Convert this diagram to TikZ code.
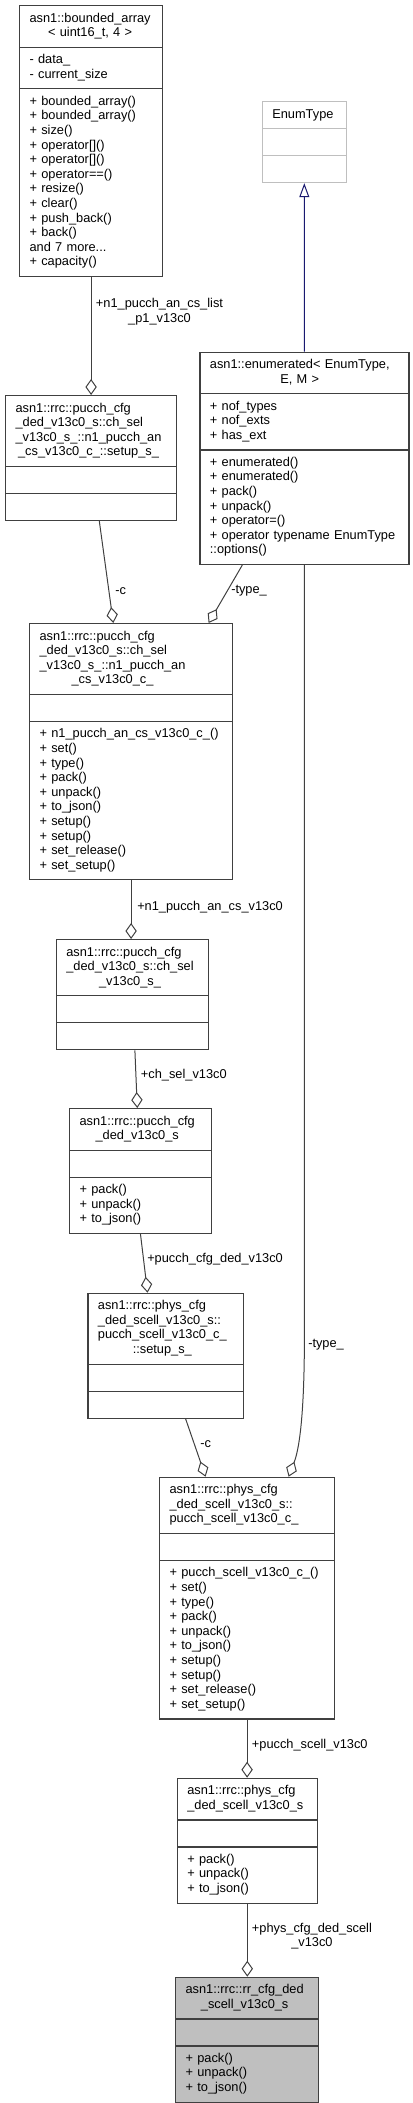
\documentclass[tikz,border=0pt]{standalone}
\usepackage{fontspec}
\setmainfont{Liberation Sans}
\usetikzlibrary{shapes.multipart,arrows.meta,calc}
\definecolor{grey25}{RGB}{64,64,64}
\definecolor{grey75}{RGB}{191,191,191}
\definecolor{midblue}{RGB}{25,25,112}
\setlength{\parindent}{0pt}
\newcommand{\cname}[2]{\centering\begin{tabular}{@{}l@{}}#1\\\multicolumn{1}{@{}c@{}}{#2}\end{tabular}}
\newcommand{\mlist}[1]{\strut#1\strut}
\begin{document}
\begin{tikzpicture}[x=0.75pt,y=-0.75pt,
  cls/.style={draw=grey25,line width=0.9pt,fill=white,rectangle split,rectangle split parts=3,
    anchor=north west,inner xsep=7.5pt,inner ysep=4.2pt,font=\fontsize{9.6}{10.95}\selectfont,align=left},
  agg/.style={grey25,line width=0.75pt,-{Diamond[open,length=12pt,width=8.5pt]}},
  lbl/.style={inner sep=0pt,font=\fontsize{9.6}{10.95}\selectfont,anchor=west,align=center}]
\useasboundingbox (0,0) rectangle (413,2103);
\node[cls,text width=92.25pt] (BA) at (19,5) {\cname{asn1::bounded\_array}{< uint16\_t, 4 >}
  \nodepart{two}\mlist{- data\_\\- current\_size}
  \nodepart{three}\mlist{+ bounded\_array()\\+ bounded\_array()\\+ size()\\+ operator[]()\\+ operator[]()\\+ operator==()\\+ resize()\\+ clear()\\+ push\_back()\\+ back()\\and 7 more...\\+ capacity()}};
\node[cls,draw=grey75,text width=48pt] (ET) at (261.7,101) {\centering\strut EnumType\strut
  \nodepart{two}\strut
  \nodepart{three}\strut};
\node[cls,text width=141.75pt] (EN) at (199.3,351.5) {\cname{asn1::enumerated< EnumType,}{E, M >}
  \nodepart{two}\mlist{+ nof\_types\\+ nof\_exts\\+ has\_ext}
  \nodepart{three}\mlist{+ enumerated()\\+ enumerated()\\+ pack()\\+ unpack()\\+ operator=()\\+ operator typename EnumType\\::options()}};
\node[cls,text width=113.25pt] (S1) at (5,395) {\cname{asn1::rrc::pucch\_cfg\\\_ded\_v13c0\_s::ch\_sel\\\_v13c0\_s\_::n1\_pucch\_an}{\_cs\_v13c0\_c\_::setup\_s\_}
  \nodepart{two}\strut
  \nodepart{three}\strut};
\node[cls,text width=137.25pt] (C1) at (29,623) {\cname{asn1::rrc::pucch\_cfg\\\_ded\_v13c0\_s::ch\_sel\\\_v13c0\_s\_::n1\_pucch\_an}{\_cs\_v13c0\_c\_}
  \nodepart{two}\strut
  \nodepart{three}\mlist{+ n1\_pucch\_an\_cs\_v13c0\_c\_()\\+ set()\\+ type()\\+ pack()\\+ unpack()\\+ to\_json()\\+ setup()\\+ setup()\\+ set\_release()\\+ set\_setup()}};
\node[cls,text width=99pt] (CS) at (55.7,939) {\cname{asn1::rrc::pucch\_cfg\\\_ded\_v13c0\_s::ch\_sel}{\_v13c0\_s\_}
  \nodepart{two}\strut
  \nodepart{three}\strut};
\node[cls,text width=91.3pt] (PD) at (69,1108) {\cname{asn1::rrc::pucch\_cfg}{\_ded\_v13c0\_s}
  \nodepart{two}\strut
  \nodepart{three}\mlist{+ pack()\\+ unpack()\\+ to\_json()}};
\node[cls,text width=101.5pt] (S2) at (87.3,1292.7) {\cname{asn1::rrc::phys\_cfg\\\_ded\_scell\_v13c0\_s::\\pucch\_scell\_v13c0\_c\_}{::setup\_s\_}
  \nodepart{two}\strut
  \nodepart{three}\strut};
\node[cls,text width=116.25pt] (C2) at (159,1476.7) {\cname{asn1::rrc::phys\_cfg\\\_ded\_scell\_v13c0\_s::}{pucch\_scell\_v13c0\_c\_}
  \nodepart{two}\strut
  \nodepart{three}\mlist{+ pucch\_scell\_v13c0\_c\_()\\+ set()\\+ type()\\+ pack()\\+ unpack()\\+ to\_json()\\+ setup()\\+ setup()\\+ set\_release()\\+ set\_setup()}};
\node[cls,text width=90pt] (PS) at (176.7,1777.7) {\cname{asn1::rrc::phys\_cfg}{\_ded\_scell\_v13c0\_s}
  \nodepart{two}\strut
  \nodepart{three}\mlist{+ pack()\\+ unpack()\\+ to\_json()}};
\node[cls,fill=grey75,text width=92pt] (RR) at (175,1976.7) {\cname{asn1::rrc::rr\_cfg\_ded}{\_scell\_v13c0\_s}
  \nodepart{two}\strut
  \nodepart{three}\mlist{+ pack()\\+ unpack()\\+ to\_json()}};
\draw[midblue,line width=0.75pt,-{Triangle[open,length=10.5pt,width=7.5pt]}] (EN.north) -- (ET.south);
\draw[agg] (BA.south) -- (BA.south |- S1.north);
\draw[agg] ($(S1.south)+(8.2,0)$) -- ($(C1.north)+(-17.8,0)$);
\draw[agg] ($(EN.south)+(-62.1,0)$) -- ($(C1.north)+(77.5,0)$);
\draw[agg] (C1.south) -- (C1.south |- CS.north);
\draw[agg] ($(CS.south)+(2.6,0)$) -- ($(PD.north)+(-3.2,0)$);
\draw[agg] (PD.south) -- ($(S2.north)+(-18,0)$);
\draw[agg] ($(S2.south)+(20,0)$) -- ($(C2.north)+(-41.5,0)$);
\draw[agg] (EN.south) -- ($(EN.south)+(0,771)$) .. controls ($(EN.south)+(0,841)$) and ($(EN.south)+(-4,881)$) .. ($(C2.north)+(41.5,0)$);
\draw[agg] (C2.south) -- (C2.south |- PS.north);
\draw[agg] (PS.south) -- (PS.south |- RR.north);
\node[lbl] (l1) at (95.7,311.5) {+n1\_pucch\_an\_cs\_list\\\_p1\_v13c0};
\node[lbl] (l2) at (115,591) {-c};
\node[lbl] (l3) at (231,591) {-type\_};
\node[lbl] (l4) at (137,907) {+n1\_pucch\_an\_cs\_v13c0};
\node[lbl] (l5) at (140.7,1075) {+ch\_sel\_v13c0};
\node[lbl] (l6) at (147,1259) {+pucch\_cfg\_ded\_v13c0};
\node[lbl] (l7) at (200,1444) {-c};
\node[lbl] (l8) at (308,1345) {-type\_};
\node[lbl] (l9) at (251.7,1745) {+pucch\_scell\_v13c0};
\node[lbl] (l10) at (251.7,1936) {+phys\_cfg\_ded\_scell\\\_v13c0};
\end{tikzpicture}
\end{document}
